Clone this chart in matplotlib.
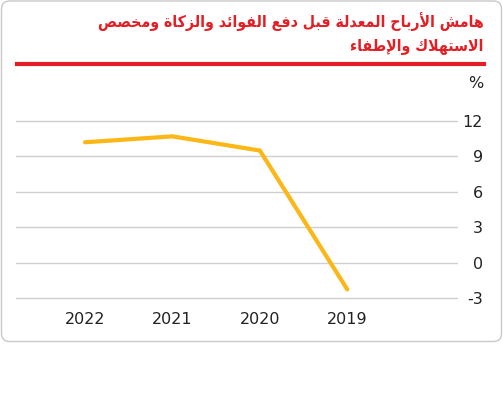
import matplotlib
matplotlib.use("Agg")
import matplotlib.pyplot as plt
from matplotlib.patches import FancyBboxPatch

# ---- data ----
years = ["2022", "2021", "2020", "2019"]
margin = [10.2, 10.7, 9.5, -2.25]
yticks = [-3, 0, 3, 6, 9, 12]
title_line1 = "هامش الأرباح المعدلة قبل دفع الفوائد والزكاة ومخصص"
title_line2 = "الاستهلاك والإطفاء"
unit_label = "%"

# ---- minimal Arabic shaping (presentation forms) ----
FORMS = {
    'ء': ('\uFE80',),
    'أ': ('\uFE83', '\uFE84'),
    'إ': ('\uFE87', '\uFE88'),
    'ئ': ('\uFE89', '\uFE8A', '\uFE8B', '\uFE8C'),
    'ا': ('\uFE8D', '\uFE8E'),
    'ب': ('\uFE8F', '\uFE90', '\uFE91', '\uFE92'),
    'ة': ('\uFE93', '\uFE94'),
    'ت': ('\uFE95', '\uFE96', '\uFE97', '\uFE98'),
    'ح': ('\uFEA1', '\uFEA2', '\uFEA3', '\uFEA4'),
    'خ': ('\uFEA5', '\uFEA6', '\uFEA7', '\uFEA8'),
    'د': ('\uFEA9', '\uFEAA'),
    'ر': ('\uFEAD', '\uFEAE'),
    'ز': ('\uFEAF', '\uFEB0'),
    'س': ('\uFEB1', '\uFEB2', '\uFEB3', '\uFEB4'),
    'ش': ('\uFEB5', '\uFEB6', '\uFEB7', '\uFEB8'),
    'ص': ('\uFEB9', '\uFEBA', '\uFEBB', '\uFEBC'),
    'ط': ('\uFEC1', '\uFEC2', '\uFEC3', '\uFEC4'),
    'ع': ('\uFEC9', '\uFECA', '\uFECB', '\uFECC'),
    'ف': ('\uFED1', '\uFED2', '\uFED3', '\uFED4'),
    'ق': ('\uFED5', '\uFED6', '\uFED7', '\uFED8'),
    'ك': ('\uFED9', '\uFEDA', '\uFEDB', '\uFEDC'),
    'ل': ('\uFEDD', '\uFEDE', '\uFEDF', '\uFEE0'),
    'م': ('\uFEE1', '\uFEE2', '\uFEE3', '\uFEE4'),
    'ه': ('\uFEE9', '\uFEEA', '\uFEEB', '\uFEEC'),
    'و': ('\uFEED', '\uFEEE'),
}
LAM_ALEF = {'ا': ('\uFEFB', '\uFEFC'), 'أ': ('\uFEF7', '\uFEF8'),
            'إ': ('\uFEF9', '\uFEFA')}


def shape(text):
    toks = []
    i = 0
    while i < len(text):
        c = text[i]
        if c == 'ل' and i + 1 < len(text) and text[i + 1] in LAM_ALEF:
            toks.append(('LA', LAM_ALEF[text[i + 1]]))
            i += 2
        else:
            toks.append((c, FORMS.get(c)))
            i += 1
    out = []
    for k, (c, f) in enumerate(toks):
        if f is None:
            out.append(c)
            continue
        prev = toks[k - 1][1] if k > 0 else None
        nxt = toks[k + 1][1] if k + 1 < len(toks) else None
        jp = prev is not None and len(prev) == 4 and len(f) >= 2
        jn = len(f) == 4 and nxt is not None and len(nxt) >= 2
        if jp and jn:
            out.append(f[3])
        elif jp:
            out.append(f[1])
        elif jn:
            out.append(f[2])
        else:
            out.append(f[0])
    return ''.join(reversed(out))


W, H = 503, 394
fig = plt.figure(figsize=(W / 100, H / 100), dpi=100)
fig.patch.set_facecolor("white")

# rounded border
border = FancyBboxPatch((1.5 / W, 1 - 341.5 / H), (501.5 - 1.5) / W, (341.5 - 1) / H,
                        boxstyle="round,pad=0,rounding_size=0.016",
                        transform=fig.transFigure, facecolor="none",
                        edgecolor="#c9c9c9", linewidth=1.0, mutation_aspect=W / H,
                        zorder=-1)
fig.patches.append(border)

RED = "#e31e24"
TFS = 11.3
fig.text(483.5 / W, 1 - 27 / H, shape(title_line1), ha="right", va="baseline",
         fontsize=TFS, fontweight="bold", fontstretch="condensed", color=RED,
         family=["DejaVu Sans"])
fig.text(483.5 / W, 1 - 51 / H, shape(title_line2), ha="right", va="baseline",
         fontsize=TFS, fontweight="bold", fontstretch="condensed", color=RED,
         family=["DejaVu Sans"])
fig.add_artist(plt.Line2D([17 / W, 484 / W], [1 - 63.5 / H, 1 - 63.5 / H],
                          transform=fig.transFigure, color=RED, linewidth=3.0))

fig.text(483 / W, 1 - 84 / H, unit_label, ha="right", va="center",
         fontsize=11.5, color="#222222")

# axes placement from pixel geometry
px_left, px_right = 16, 458
px_top, px_bot = 105, 312
# data mapping: y=12 at 121px, y=-3 at 298.3px
ppu_y = (298.3 - 121) / 15.0
ytop = 12 + (121 - px_top) / ppu_y
ybot = -3 - (px_bot - 298.3) / ppu_y
# x mapping: idx 0 at 85px, idx 3 at 347.3px
ppu_x = (347.3 - 85) / 3.0
xl = -(85 - px_left) / ppu_x
xr = 3 + (px_right - 347.3) / ppu_x

ax = fig.add_axes([px_left / W, 1 - px_bot / H, (px_right - px_left) / W,
                   (px_bot - px_top) / H])
ax.set_facecolor("none")
ax.set_xlim(xl, xr)
ax.set_ylim(ybot, ytop)
for s in ax.spines.values():
    s.set_visible(False)

ax.set_yticks(yticks)
ax.set_yticklabels([str(v) for v in yticks])
ax.yaxis.grid(True, color="#cfcfcf", linewidth=1.0)
ax.set_axisbelow(True)
ax.yaxis.tick_right()
ax.tick_params(axis="y", length=0, pad=18, labelsize=11.5, labelcolor="#222222")
for lab in ax.get_yticklabels():
    lab.set_horizontalalignment("right")

xs = list(range(len(years)))
ax.set_xticks(xs)
ax.set_xticklabels(years)
ax.tick_params(axis="x", length=0, pad=0, labelsize=11.5, labelcolor="#222222")

ax.plot(xs, margin, color="#fbb715", linewidth=3.0, solid_capstyle="round",
        solid_joinstyle="miter", clip_on=False)

fig.savefig("out.png", dpi=100, facecolor="white")
